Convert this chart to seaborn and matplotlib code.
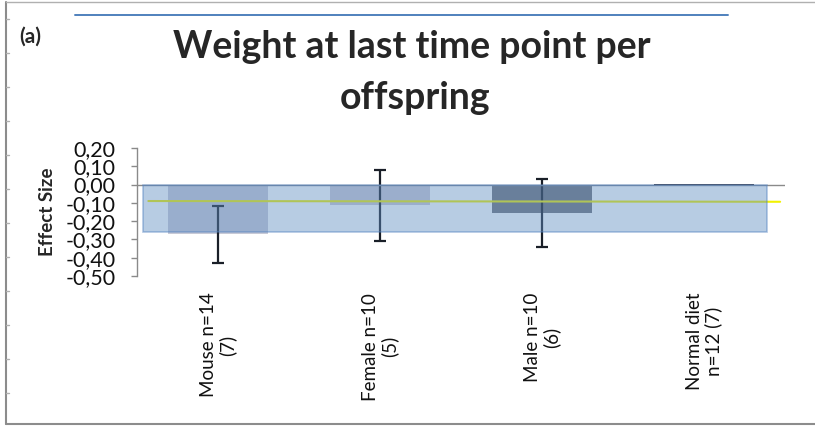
import matplotlib
matplotlib.use("Agg")
import matplotlib.pyplot as plt
from matplotlib.lines import Line2D
import seaborn as sns
import numpy as np
import pandas as pd

# ---- data -------------------------------------------------------------
categories = ["Mouse n=14\n(7)", "Female n=10\n(5)", "Male n=10\n(6)", "Normal diet\nn=12 (7)"]
effect_size = [-0.27, -0.11, -0.155, 0.005]
ci_low = [-0.43, -0.31, -0.34, np.nan]
ci_high = [-0.115, 0.08, 0.03, np.nan]
bar_colors = ["#c8cad6", "#cccad4", "#71737c", "#373944"]

overall_effect = -0.26      # pooled effect drawn as the wide band
overall_mean_line = -0.09   # reference line across the groups

y_ticks = [0.20, 0.10, 0.00, -0.10, -0.20, -0.30, -0.40, -0.50]
y_tick_labels = ["0,20", "0,10", "0,00", "-0,10", "-0,20", "-0,30", "-0,40", "-0,50"]

title_lines = ["Weight at last time point per", "offspring"]
panel_label = "(a)"
y_label = "Effect Size"

# ---- figure -----------------------------------------------------------
sns.set_theme(style="white")
plt.rcParams["font.family"] = ["Lato", "DejaVu Sans"]

W, H = 815, 426
fig = plt.figure(figsize=(W / 100, H / 100), dpi=100)
ax = fig.add_axes([137 / W, 1 - 276 / H, (785 - 137) / W, 128 / H])

df = pd.DataFrame({"group": categories, "effect": effect_size})
sns.barplot(data=df, x="group", y="effect", hue="group", palette=bar_colors,
            width=0.62, legend=False, ax=ax, zorder=1, saturation=1, linewidth=0)

xpos = np.arange(len(categories))
lo = np.array(effect_size) - np.array(ci_low)
hi = np.array(ci_high) - np.array(effect_size)
ax.errorbar(xpos, effect_size, yerr=[lo, hi], fmt="none", ecolor="#1a1f28",
            elinewidth=1.6, capsize=4, capthick=1.6, zorder=2)

# mean reference line (yellow)
ax.plot([-0.43, 3.47], [overall_mean_line, overall_mean_line - 0.004],
        color="#f2f200", lw=1.5, zorder=2)

# zero line
ax.axhline(0, color="#8a8a8a", lw=1.0, zorder=2.5)

# pooled effect band
ax.bar(1.463, overall_effect, width=3.853, color="#618ec3", alpha=0.45,
       edgecolor="#4f7fbf", linewidth=1.2, zorder=3)

ax.set_xlim(-0.5, 3.5)
ax.set_ylim(-0.5, 0.2)
ax.set_yticks(y_ticks)
ax.set_yticklabels(y_tick_labels, fontsize=15.5, color="#111111")
ax.set_xticks(xpos)
ax.set_xticklabels(categories, rotation=90, ha="center", va="top",
                   fontsize=13.5, color="#111111", multialignment="center",
                   linespacing=1.05)
ax.set_xlabel("")
ax.set_ylabel(y_label, fontsize=13.5, fontweight="bold")
ax.yaxis.set_label_coords((56 - 137) / (785 - 137), 0.5)

for side in ["top", "right", "bottom"]:
    ax.spines[side].set_visible(False)
ax.spines["left"].set_color("#8a8a8a")
ax.spines["left"].set_linewidth(1.0)
ax.tick_params(axis="y", direction="out", length=4.5, width=1.0, color="#8a8a8a",
               left=True, pad=11)
ax.tick_params(axis="x", length=0, pad=12)
ax.set_facecolor("none")

# title and panel label
fig.text(412 / W, 1 - 47 / H, title_lines[0], ha="center",
         va="center", fontsize=27, fontweight="bold")
fig.text(415 / W, 1 - 98 / H, title_lines[1], ha="center", va="center",
         fontsize=27, fontweight="bold")
fig.text(19 / W, 1 - 37 / H, panel_label, ha="left", va="center",
         fontsize=15, fontweight="bold")

# decorative rule above the title
fig.add_artist(Line2D([75 / W, 728 / W], [1 - 15 / H, 1 - 15 / H],
                      color="#4f81bd", lw=1.4))

# panel frame
frame = dict(color="#8c8c8c", lw=1.5)
fig.add_artist(Line2D([6 / W, 6 / W], [1 - 2 / H, 1 - 424 / H], **frame))
fig.add_artist(Line2D([6 / W, 1.0], [1 - 424 / H, 1 - 424 / H], **frame))
fig.add_artist(Line2D([6 / W, 1.0], [1 - 1.5 / H, 1 - 1.5 / H], color="#b0b0b0", lw=1))
for yy in range(19, 424, 34):
    fig.add_artist(Line2D([6 / W, 9 / W], [1 - yy / H, 1 - yy / H],
                          color="#b0b0b0", lw=1))

fig.savefig("out.png", dpi=100)
